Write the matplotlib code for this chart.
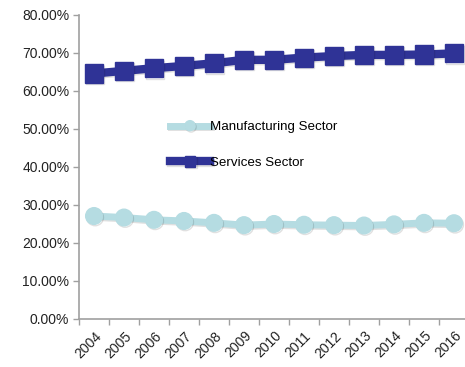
import matplotlib
matplotlib.use("Agg")
import matplotlib.pyplot as plt
import matplotlib.patheffects as pe
from matplotlib.ticker import FuncFormatter, FixedLocator

years = ["2004", "2005", "2006", "2007", "2008", "2009", "2010", "2011", "2012", "2013", "2014", "2015", "2016"]
manufacturing = [27.1, 26.7, 26.1, 25.8, 25.3, 24.7, 25.0, 24.8, 24.7, 24.6, 24.9, 25.3, 25.2]
services = [64.6, 65.3, 66.0, 66.6, 67.3, 68.2, 68.2, 68.8, 69.2, 69.5, 69.5, 69.6, 69.9]

plt.rcParams['font.family'] = ['Liberation Sans', 'DejaVu Sans']

fig = plt.figure(figsize=(4.65, 3.67), dpi=100)
ax = fig.add_axes([79/465, 48/367, 390/465, 304/367])

x = list(range(len(years)))
shadow = [pe.SimpleLineShadow(offset=(0.8, -1.0), alpha=0.12, shadow_color='black'), pe.Normal()]

ax.plot(x, manufacturing, color='#B5DCE2', lw=5, marker='o', ms=12,
        label='Manufacturing Sector', path_effects=shadow)
ax.plot(x, services, color='#2F3396', lw=6, marker='s', ms=13,
        label='Services Sector', path_effects=shadow)

ax.set_xlim(-0.5, len(years) - 0.5)
ax.set_ylim(0, 80)
ax.set_yticks(range(0, 81, 10))
ax.yaxis.set_major_formatter(FuncFormatter(lambda v, p: f"{v:.2f}%"))

ax.set_xticks(x)
ax.set_xticklabels(years, rotation=45, ha='right', rotation_mode='anchor')
ax.xaxis.set_minor_locator(FixedLocator([i - 0.5 for i in range(len(years) + 1)]))
ax.tick_params(axis='x', which='major', length=0, pad=7, labelsize=10, labelcolor='#222222')
ax.tick_params(axis='x', which='minor', length=4, color='#A0A0A0', width=1)
ax.tick_params(axis='y', length=4, color='#A0A0A0', width=1, labelsize=10, labelcolor='#222222', pad=3)

for s in ['top', 'right']:
    ax.spines[s].set_visible(False)
for s in ['left', 'bottom']:
    ax.spines[s].set_color('#A0A0A0')
    ax.spines[s].set_linewidth(1.2)

leg = ax.legend(loc='upper left', bbox_to_anchor=(158/465, 1 - 109/367), bbox_transform=fig.transFigure,
                frameon=False, fontsize=9.6, handlelength=3.0, handletextpad=0.0, labelspacing=1.75,
                markerscale=0.6)

fig.savefig("out.png", dpi=100)
